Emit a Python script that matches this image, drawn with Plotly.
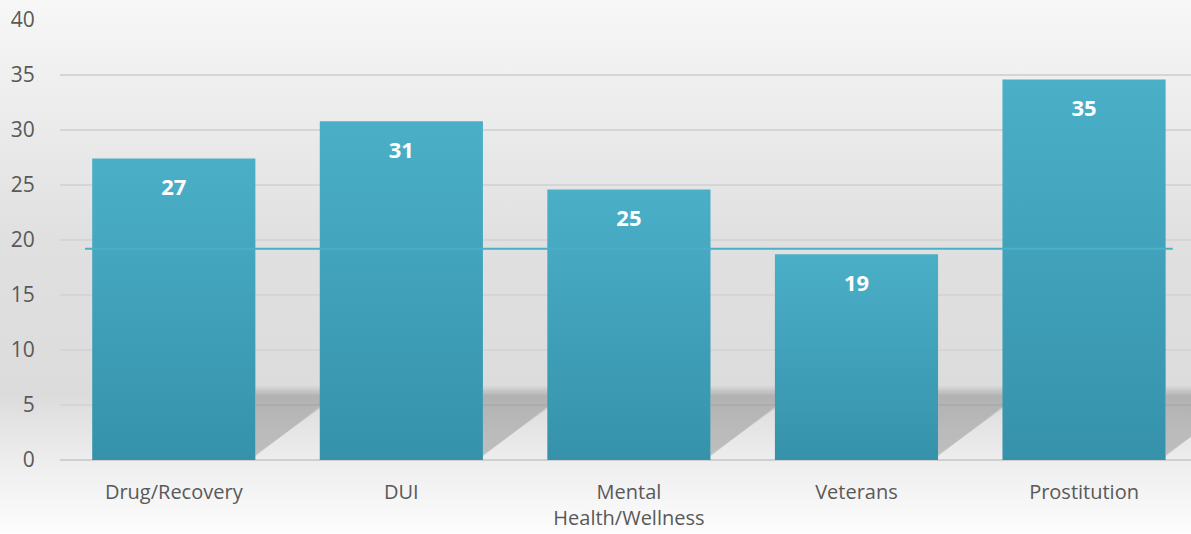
import urllib.parse
import plotly.graph_objects as go

# values
categories = ["Drug/Recovery", "DUI", "Mental<br>Health/Wellness", "Veterans", "Prostitution"]
values = [27.4, 30.8, 24.6, 18.7, 34.6]
benchmark = 19.2
y_ticks = [0, 5, 10, 15, 20, 25, 30, 35, 40]

bar_w = 0.717
bar_top = "#4BAFC8"
bar_bottom = "#3692AB"
font_fam = "Open Sans, Noto Sans, sans-serif"

W, H = 1191, 534
ml, mr, mt, mb = 60, 0, 20, 74

fig = go.Figure()

# soft cast shadows on the "floor" to the right of each bar
# (a few stacked translucent polygons fake the blur)
blur_steps = [0.0, 0.15, 0.3, 0.45, 0.6]
for i, v in enumerate(values):
    xr = i + bar_w / 2
    for s in blur_steps:
        top = 5.9 + s * 1.3
        xs = [xr, xr + 0.29 + s * 0.05, xr + 0.34 + s * 0.05, xr + 0.34 + s * 0.05, xr, xr]
        ys = [0.3 + s * 0.3, 5.0 + s * 0.3, 5.0 + s * 0.3, top, top, 0.3 + s * 0.3]
        fig.add_trace(go.Scatter(
            x=xs, y=ys, mode="lines", fill="toself",
            fillcolor="rgba(0,0,0,0.04)", line=dict(width=0),
            hoverinfo="skip", showlegend=False,
        ))

# bars with a vertical gradient
for i, v in enumerate(values):
    x0, x1 = i - bar_w / 2, i + bar_w / 2
    fig.add_trace(go.Scatter(
        x=[x0, x0, x1, x1, x0], y=[0, v, v, 0, 0],
        mode="lines", fill="toself", line=dict(width=0),
        fillgradient=dict(type="vertical", colorscale=[[0, bar_bottom], [1, bar_top]]),
        hoverinfo="skip", showlegend=False,
    ))

# value labels inside bars
fig.add_trace(go.Scatter(
    x=list(range(len(values))), y=[v - 2.8 for v in values],
    mode="text", text=[str(int(v + 0.5)) for v in values],
    textfont=dict(family=font_fam, size=22, color="white", weight="bold"),
    hoverinfo="skip", showlegend=False,
))

# benchmark line
fig.add_trace(go.Scatter(
    x=[-0.39, len(values) - 1 + 0.39], y=[benchmark, benchmark],
    mode="lines", line=dict(color="#4BAFC8", width=2),
    hoverinfo="skip", showlegend=False,
))

# background gradient as an svg image
svg = (
    f'<svg xmlns="http://www.w3.org/2000/svg" width="{W}" height="{H}" preserveAspectRatio="none">'
    '<defs><linearGradient id="g" x1="0" y1="0" x2="0" y2="1">'
    '<stop offset="0" stop-color="#F7F7F7"/>'
    '<stop offset="0.45" stop-color="#E0E0E0"/>'
    '<stop offset="0.74" stop-color="#DCDCDC"/>'
    '<stop offset="0.86" stop-color="#EDEDED"/>'
    '<stop offset="1" stop-color="#FDFDFD"/>'
    '</linearGradient></defs>'
    f'<rect width="{W}" height="{H}" fill="url(#g)"/></svg>'
)
src = "data:image/svg+xml;charset=utf-8," + urllib.parse.quote(svg)
pw, ph = W - ml - mr, H - mt - mb
fig.add_layout_image(dict(
    source=src, xref="paper", yref="paper",
    x=-ml / pw, y=1 + mt / ph, sizex=W / pw, sizey=H / ph,
    xanchor="left", yanchor="top", sizing="stretch", layer="below",
))

fig.update_layout(
    width=W, height=H,
    margin=dict(l=ml, r=mr, t=mt, b=mb),
    paper_bgcolor="white", plot_bgcolor="rgba(0,0,0,0)",
    font=dict(family=font_fam, color="#595959", size=20),
    showlegend=False,
)
fig.update_xaxes(
    range=[-0.5, 4.47], tickvals=list(range(len(categories))), ticktext=categories,
    showgrid=False, zeroline=False, showline=False,
    ticks="outside", ticklen=14, tickcolor="rgba(0,0,0,0)",
    tickfont=dict(size=20, color="#595959"),
)
fig.update_yaxes(
    range=[0, 40], tickvals=y_ticks, showgrid=True, gridcolor="#D5D5D5", gridwidth=1.5,
    zeroline=True, zerolinecolor="#CFCFCF", zerolinewidth=2, showline=False,
    ticks="outside", ticklen=20, tickcolor="rgba(0,0,0,0)",
    tickfont=dict(size=21, color="#595959"),
)

fig.write_html(
    "out.html",
    config={"displayModeBar": False},
    post_script="document.body.style.margin='0';document.body.style.padding='0';",
)
